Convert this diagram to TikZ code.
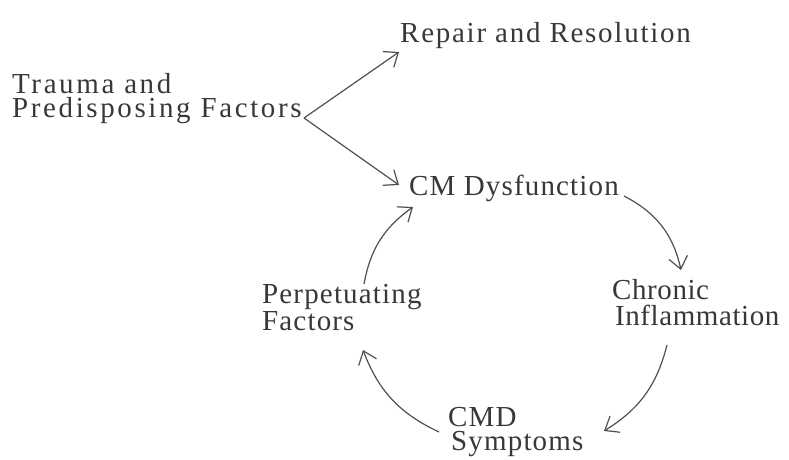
\documentclass[tikz,border=0pt]{standalone}
\usepackage{fontspec}
\setmainfont[LetterSpace=6]{Liberation Serif}
\newfontfamily\widefont[LetterSpace=9]{Liberation Serif}
\newfontfamily\midfont[LetterSpace=4]{Liberation Serif}
\newfontfamily\narrowfont[LetterSpace=2]{Liberation Serif}
\usetikzlibrary{arrows.meta}
\definecolor{txt}{HTML}{383838}
\definecolor{ln}{HTML}{505050}
\tikzset{
  lbl/.style={anchor=base west, inner sep=0pt, text=txt, align=left,
    font=\fontsize{29}{25}\selectfont},
  arr/.style={draw=ln, line width=1.2pt,
    -{Straight Barb[length=12pt,width=19pt,line width=1.2pt]}}
}
\begin{document}
\begin{tikzpicture}[x=1pt,y=-1pt]
\useasboundingbox (0,0) rectangle (789,460);
\node[lbl, font=\fontsize{29}{24}\widefont] (trauma) at (12,117) {Trauma and\\Predisposing Factors};
\node[lbl] (repair) at (400,42) {Repair and Resolution};
\node[lbl, font=\fontsize{29}{24}\midfont] (cmd) at (409,195) {CM Dysfunction};
\node[lbl, font=\fontsize{29}{26}\narrowfont] (chronic) at (612,325) {Chronic\\\hspace*{3pt}Inflammation};
\node[lbl, font=\fontsize{29}{27}\midfont] (perp) at (262,330) {Perpetuating\\Factors};
\node[lbl, font=\fontsize{29}{24}\midfont] (sympt) at (448,450) {CMD\\\hspace*{3pt}Symptoms};
% connector end points
\coordinate (t0) at (304,118);
\coordinate (r1) at (399,52);
\coordinate (c1) at (399,185);
\coordinate (d0) at (624,196);
\coordinate (ch1) at (681,270);
\coordinate (ch0) at (667,345);
\coordinate (s1) at (604,431);
\coordinate (s0) at (439,432);
\coordinate (p1) at (363,350);
\coordinate (p0) at (364,284);
\coordinate (d1) at (413,207);
\draw[arr] (t0) -- (r1);
\draw[arr] (t0) -- (c1);
\draw[arr] (d0) to[bend left=25] (ch1);
\draw[arr] (ch0) to[bend left=22] (s1);
\draw[arr] (s0) to[bend left=22] (p1);
\draw[arr] (p0) to[bend left=22] (d1);
\end{tikzpicture}
\end{document}
